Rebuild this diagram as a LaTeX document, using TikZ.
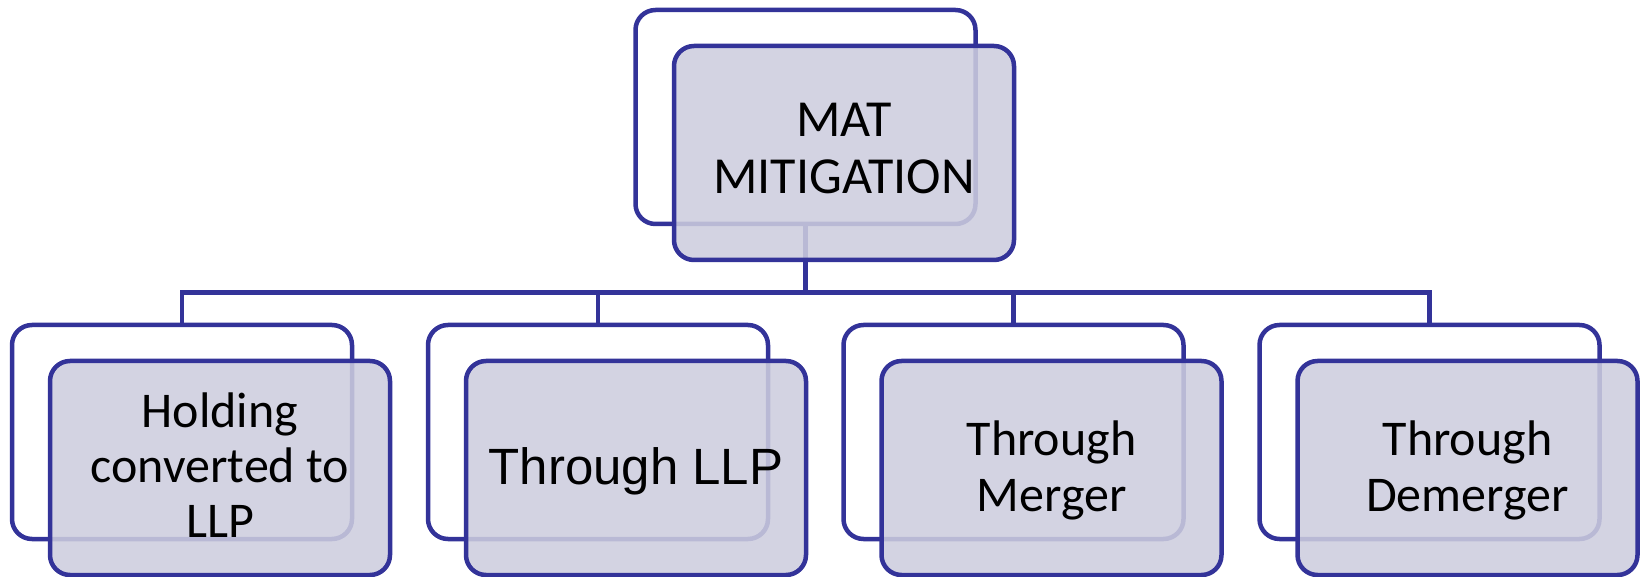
\documentclass[tikz,border=0pt]{standalone}
\usepackage{fontspec}
\setmainfont{Carlito}
\newfontfamily\arialfont{Liberation Sans}
\definecolor{edge}{RGB}{51,51,153}
\definecolor{boxfill}{RGB}{205,205,222}
\begin{document}
\begin{tikzpicture}[x=1pt,y=-1pt,
  backbox/.style={draw=edge, line width=4.5pt, rounded corners=20pt,
    minimum width=340pt, minimum height=214pt, inner sep=0pt},
  frontbox/.style={backbox, fill=boxfill, fill opacity=0.87},
  link/.style={draw=edge, line width=4.5pt},
  boxtext/.style={anchor=base, align=center, text=black, inner sep=0pt}]
\useasboundingbox (0,0) rectangle (1642,577);

% back (outline) cards
\node[backbox] (t0) at (805.5,117) {};
\node[backbox] (b1) at (182,432) {};
\node[backbox] (b2) at (598,432) {};
\node[backbox] (b3) at (1013.5,432) {};
\node[backbox] (b4) at (1429.5,432) {};

% tree connectors
\coordinate (bus) at (805.5,292.5);
\draw[link] (t0.south) -- (bus) -| (b1.north);
\draw[link] (bus) -| (b2.north);
\draw[link] (bus) -| (b3.north);
\draw[link] (bus) -| (b4.north);

% front (filled) cards
\node[frontbox] (f0) at (844,153) {};
\node[frontbox] (f1) at (220,468) {};
\node[frontbox] (f2) at (636,468) {};
\node[frontbox] (f3) at (1051.5,468) {};
\node[frontbox] (f4) at (1467.5,468) {};

% card texts (base anchor sits on the last line)
\node[boxtext, font=\fontsize{52}{56.6}\selectfont] (x0) at (844,193.5) {MAT\\MITIGATION};
\node[boxtext, font=\fontsize{50}{55}\selectfont] (x1) at (220,537) {Holding\\converted to\\LLP};
\node[boxtext, font=\arialfont\fontsize{51}{60}\selectfont] (x2) at (636,484) {Through LLP};
\node[boxtext, font=\fontsize{50}{56}\selectfont] (x3) at (1051.5,511) {Through\\Merger};
\node[boxtext, font=\fontsize{50}{56}\selectfont] (x4) at (1467.5,511) {Through\\Demerger};
\end{tikzpicture}
\end{document}
